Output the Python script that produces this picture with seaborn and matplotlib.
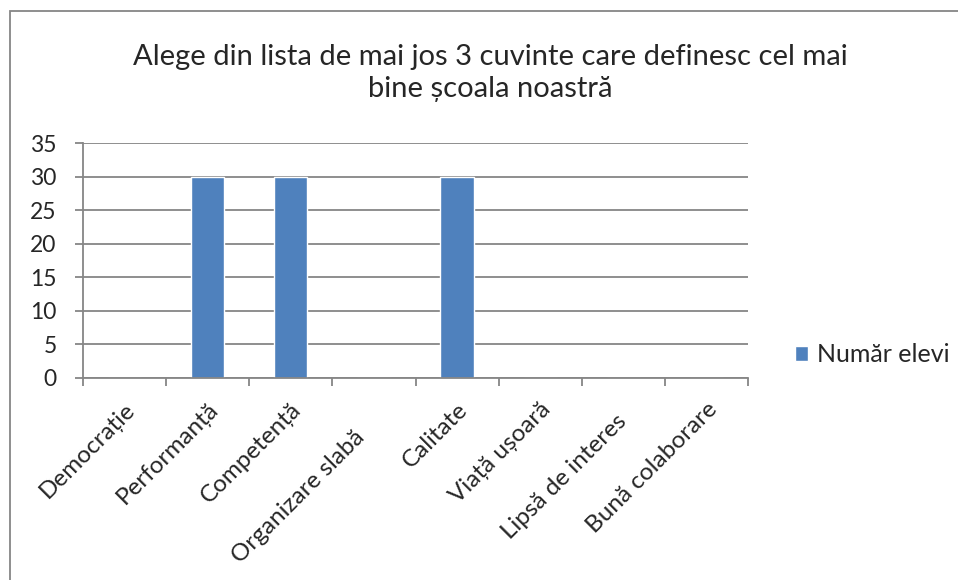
import numpy as np
import pandas as pd
import matplotlib
matplotlib.use("Agg")
import matplotlib.pyplot as plt
import matplotlib.transforms as mtransforms
from matplotlib.patches import Rectangle
import seaborn as sns

# chart data
categories = ["Democrație", "Performanță", "Competență", "Organizare slabă",
              "Calitate", "Viață ușoară", "Lipsă de interes", "Bună colaborare"]
nr_elevi = [0, 30, 30, 0, 30, 0, 0, 0]
y_ticks = [0, 5, 10, 15, 20, 25, 30, 35]
series_name = "Număr elevi"
title = "Alege din lista de mai jos 3 cuvinte care definesc cel mai\nbine școala noastră"

sns.set_style("white")
plt.rcParams['font.family'] = ['Lato', 'DejaVu Sans']

df = pd.DataFrame({"Cuvant": categories, "Elevi": nr_elevi})

fig = plt.figure(figsize=(9.58, 5.8), dpi=100)
ax = fig.add_axes([83 / 958, 1 - 378 / 580, 665 / 958, 235 / 580])

sns.barplot(data=df, x="Cuvant", y="Elevi", color="#4F81BD", saturation=1,
            width=0.4, ax=ax, label=series_name)

# axes styling, excel look
grid_col = "#868686"
ax.set_ylim(0, 35)
ax.set_xlim(-0.5, len(categories) - 0.5)
ax.set_yticks(y_ticks)
ax.set_yticklabels([str(t) for t in y_ticks], fontsize=16.5)
ax.yaxis.grid(True, color=grid_col, linewidth=1.3)
ax.set_axisbelow(True)
for s in ["top", "right"]:
    ax.spines[s].set_visible(False)
for s in ["left", "bottom"]:
    ax.spines[s].set_color(grid_col)
    ax.spines[s].set_linewidth(1.3)
ax.tick_params(axis="y", left=True, length=6, width=1.3, color=grid_col, pad=13)

ax.set_xticks(range(len(categories)))
ax.set_xticklabels(categories, rotation=45, ha="right", va="top",
                   rotation_mode="anchor", fontsize=17.5)
ax.tick_params(axis="x", which="major", length=0, pad=15)
ax.set_xticks(np.arange(-0.5, len(categories)), minor=True)
ax.tick_params(axis="x", which="minor", bottom=True, length=6, width=1.3, color=grid_col)
ax.set_xlabel("")
ax.set_ylabel("")

# excel pushes a couple of the long labels a bit lower
shifts = {"Organizare slabă": (-20, -28), "Lipsă de interes": (-8, -12)}
for lbl in ax.get_xticklabels():
    if lbl.get_text() in shifts:
        dx, dy = shifts[lbl.get_text()]
        lbl.set_transform(lbl.get_transform() +
                          mtransforms.ScaledTranslation(dx / 100, dy / 100, fig.dpi_scale_trans))

fig.text(490 / 958, 1 - 73 / 580, title, ha="center", va="center",
         fontsize=21, linespacing=1.28)

ax.legend(loc="center left", bbox_to_anchor=(772 / 958, 1 - 355 / 580),
          bbox_transform=fig.transFigure, frameon=False, fontsize=18,
          handlelength=0.55, handleheight=0.55, handletextpad=0.35)

# chart area border
fig.patches.append(Rectangle((10 / 958, -0.05), 1.0, 1 - 11 / 580 + 0.05,
                             transform=fig.transFigure, fill=False,
                             edgecolor="#868686", linewidth=1.3))

fig.savefig("out.png", dpi=100)
